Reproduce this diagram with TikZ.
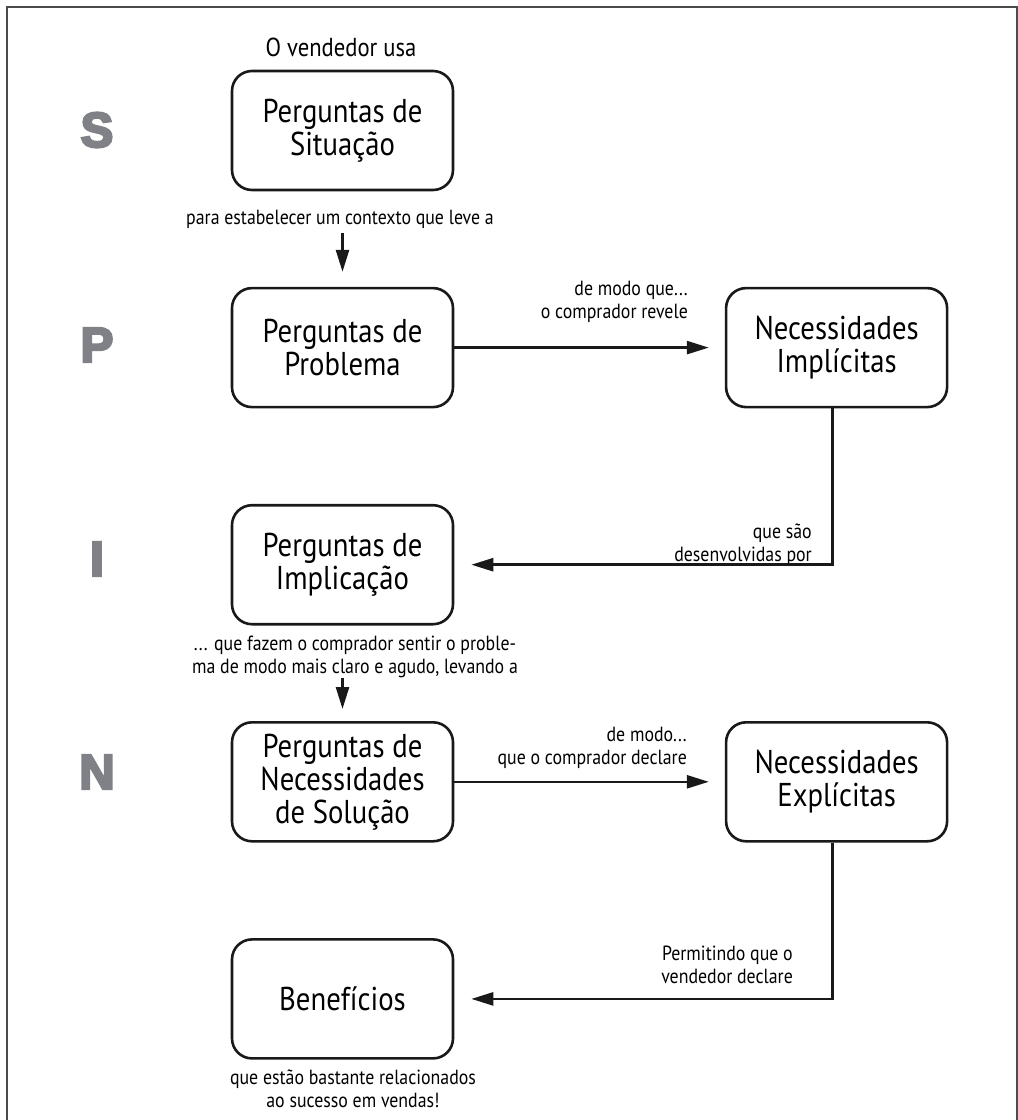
\documentclass[tikz,border=0pt]{standalone}
\usepackage{fontspec}
\usepackage{xcolor}
\setmainfont[FakeStretch=0.87]{PT Sans}
\newfontfamily\letrafont[FakeBold=5]{Liberation Sans Bold}
\usetikzlibrary{positioning,arrows.meta}
\definecolor{cinzaletra}{RGB}{128,129,134}
\definecolor{cinzamoldura}{RGB}{75,75,75}

\begin{document}
\begin{tikzpicture}[x=1pt,y=-1pt,node distance=95.5pt and 270.5pt,
   caixa/.style={draw=black!90,line width=2.6pt,rounded corners=20pt,
     minimum width=221pt,minimum height=119pt,inner sep=0pt,align=center,
     font=\fontsize{33}{33}\selectfont},
   rotulo/.style={inner sep=0pt,font=\fontsize{20.5}{23}\selectfont},
   letra/.style={inner sep=0pt,text=cinzaletra,font=\letrafont\fontsize{49}{49}\selectfont},
   seta/.style={draw=black!90,line width=2.6pt,-{Triangle[length=22pt,width=13pt]}}]

  \useasboundingbox (0,0) rectangle (1018,1120);
  \draw[cinzamoldura,line width=2pt] (7,1140) -- (7,7) -- (1017,7) -- (1017,1140);

  % caixas
  \node[caixa] (situacao) at (342.5,130.5) {Perguntas de\\Situação};
  \node[caixa] (problema) [below=of situacao] {Perguntas de\\Problema};
  \node[caixa] (implicitas) [right=of problema] {Necessidades\\Implícitas};
  \node[caixa] (implicacao) [below=of problema] {Perguntas de\\Implicação};
  \node[caixa] (solucao) [below=of implicacao] {Perguntas de\\Necessidades\\de Solução};
  \node[caixa] (explicitas) [right=of solucao] {Necessidades\\Explícitas};
  \node[caixa] (beneficios) [below=of solucao] {Benefícios};

  % letras SPIN
  \foreach \l/\y in {S/130,P/345,I/559,N/772}
    \node[letra] (letra\l) at (97,\y) {\l};

  % textos
  \node[rotulo,font=\fontsize{26}{30}\selectfont] (usa) at (341,47) {O vendedor usa};
  \node[rotulo] (contexto) at (340,219) {para estabelecer um contexto que leve a};
  \node[rotulo,align=right,anchor=east] (revele) at (688,302) {de modo que...\\o comprador revele};
  \node[rotulo,align=right,anchor=east] (desenvolvidas) at (812,545) {que são\\desenvolvidas por};
  \node[rotulo,align=center] (agudo) at (355,657) {... que fazem o comprador sentir o proble-\\ma de modo mais claro e agudo, levando a};
  \node[rotulo,align=right,anchor=east] (declare) at (687,748) {de modo...\\que o comprador declare};
  \node[rotulo,align=right,anchor=east] (permitindo) at (793,965) {Permitindo que o\\vendedor declare};
  \node[rotulo,align=center] (sucesso) at (353,1089) {que estão bastante relacionados\\ao sucesso em vendas!};

  % setas
  \draw[seta] ([yshift=-42pt]situacao.south) -- ([yshift=15pt]problema.north);
  \draw[seta] ([yshift=-52pt]implicacao.south) -- ([yshift=12pt]solucao.north);
  \foreach \from/\to in {problema/implicitas,solucao/explicitas}
    \draw[seta,shorten >=16pt] (\from) -- (\to);
  \foreach \from/\to in {implicitas/implicacao,explicitas/beneficios}
    \draw[seta,shorten >=17pt] ([xshift=-4pt]\from.south) |- (\to.east);
\end{tikzpicture}
\end{document}
